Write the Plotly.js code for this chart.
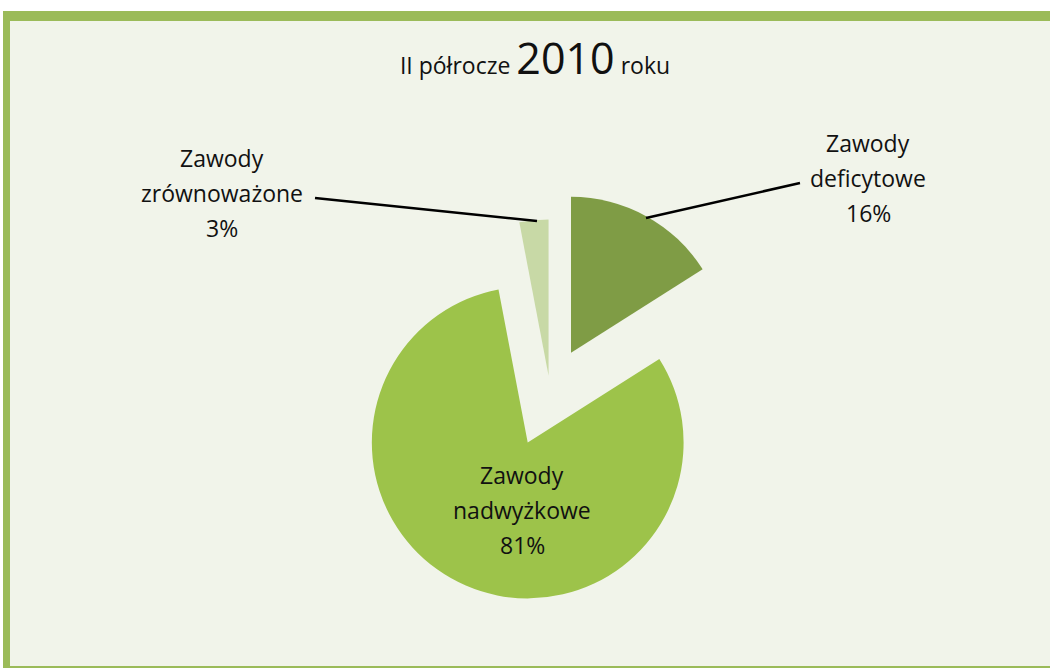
<!DOCTYPE html>
<html><head><meta charset="utf-8">
<script src="https://cdn.plot.ly/plotly-3.0.1.min.js"></script>
<style>html,body{margin:0;padding:0;background:#fff}</style>
</head><body><div id="chart" style="width:1050px;height:668px"></div>
<script>
// ---- data ----
const categories = ['Zawody deficytowe', 'Zawody nadwyżkowe', 'Zawody zrównoważone'];
const labelLines = [['Zawody', 'deficytowe'], ['Zawody', 'nadwyżkowe'], ['Zawody', 'zrównoważone']];
const values = [16, 81, 3];
const titleParts = ['II półrocze', '2010', 'roku'];

// ---- layout helpers (pixel -> paper) ----
const W = 1050, H = 668;
const px = x => x / W;
const py = y => 1 - y / H;
const FONT = 'Open Sans, Lato, sans-serif';

const trace = {
  type: 'pie',
  labels: categories,
  values: values,
  sort: false,
  direction: 'clockwise',
  rotation: 0,
  textinfo: 'none',
  hoverinfo: 'label+percent',
  pull: [0.28, 0.36, 0.1],
  marker: {colors: ['#7f9c45', '#9dc34a', '#c8d9a6'], line: {width: 0}},
  domain: {x: [px(550 - 212), px(550 + 212)], y: [py(391 + 212), py(391 - 212)]},
  showlegend: false
};

// label anchor centres (layout)
const labelPos = [[868, 143], [522, 475], [222, 158]];
const lineStep = 35;
const annotations = [];
categories.forEach((c, i) => {
  const lines = labelLines[i].concat([values[i] + '%']);
  lines.forEach((t, k) => {
    annotations.push({
      xref: 'paper', yref: 'paper',
      x: px(labelPos[i][0]), y: py(labelPos[i][1] + k * lineStep),
      xanchor: 'center', yanchor: 'middle',
      text: t, showarrow: false,
      font: {family: FONT, size: 23, color: '#111'}
    });
  });
});

const shapes = [
  {type: 'rect', xref: 'paper', yref: 'paper', x0: px(3), x1: px(1070), y0: py(690), y1: py(11),
   fillcolor: '#9bbb59', line: {width: 0}, layer: 'below'},
  {type: 'rect', xref: 'paper', yref: 'paper', x0: px(10), x1: px(1070), y0: py(666), y1: py(21),
   fillcolor: '#f1f4ea', line: {width: 0}, layer: 'below'},
  // leader lines
  {type: 'line', xref: 'paper', yref: 'paper', x0: px(646), y0: py(218), x1: px(800), y1: py(183),
   line: {color: '#000', width: 2.5}},
  {type: 'line', xref: 'paper', yref: 'paper', x0: px(315), y0: py(198), x1: px(537), y1: py(221),
   line: {color: '#000', width: 2.5}}
];

const layout = {
  width: W, height: H,
  margin: {l: 0, r: 0, t: 0, b: 0},
  paper_bgcolor: '#ffffff',
  plot_bgcolor: '#ffffff',
  title: {
    text: titleParts[0] + ' <span style="font-size:43px">' + titleParts[1] + '</span> ' + titleParts[2],
    font: {family: FONT, size: 23, color: '#111'},
    x: px(535), xanchor: 'center', xref: 'paper',
    y: py(66), yanchor: 'middle', yref: 'container'
  },
  annotations: annotations,
  shapes: shapes
};

Plotly.newPlot('chart', [trace], layout, {displayModeBar: false, staticPlot: true});
</script>
</body></html>
